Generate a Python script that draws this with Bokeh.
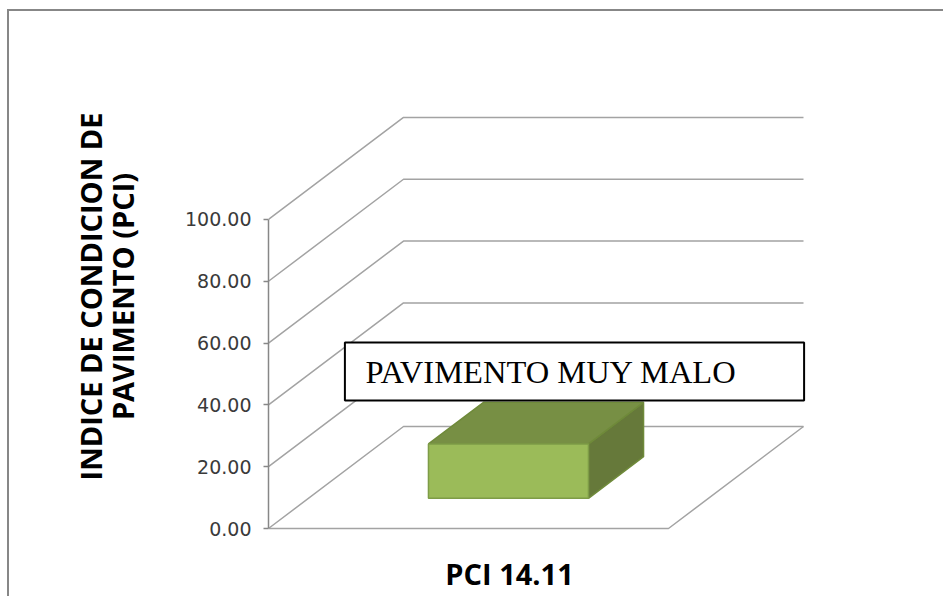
from bokeh.plotting import figure
from bokeh.models import FixedTicker, NumeralTickFormatter
from bokeh.core.properties import value
from bokeh.embed import file_html
from bokeh.resources import INLINE

# ---------------- data ----------------
categories = ["PCI  14.11"]
bar_values = [17.6]                 # bar height as drawn in the picture
y_ticks = [0, 20, 40, 60, 80, 100]
y_title_lines = ["INDICE DE CONDICION DE", "PAVIMENTO (PCI)"]
box_text = "PAVIMENTO MUY MALO"

# ---------------- 3D layout constants ----------------
DX = 0.3375      # depth shift in x (category units)
DY = 33.0        # depth shift in y (value units)
BAR_W = 0.4      # bar width (category units)
F0, F1 = 0.296, 0.704   # bar front / back depth fractions
LABEL_SHIFT = 0.112     # category label shift

p = figure(width=936, height=587, x_range=(0, 1.68), y_range=(-6.47, 156.6),
           output_backend="svg", toolbar_location=None,
           min_border_left=259, min_border_right=5, min_border_top=33,
           min_border_bottom=50)
p.styles = {"border-left": "2px solid #878787", "border-top": "2px solid #878787",
            "margin-left": "7px", "margin-top": "9px"}
p.outline_line_color = None
p.xgrid.visible = False
p.ygrid.visible = False
p.background_fill_color = "white"
p.border_fill_color = "white"

# ---------------- walls / gridlines ----------------
grid_xs, grid_ys = [], []
for t in y_ticks:
    grid_xs.append([0, DX, 1 + DX])
    grid_ys.append([t, t + DY, t + DY])
# floor front edge and right edge
grid_xs.append([0, 1, 1 + DX])
grid_ys.append([0, 0, DY])
p.multi_line(grid_xs, grid_ys, line_color="#a3a3a3", line_width=1.5)

# ---------------- 3D bars ----------------
front_xs, front_ys, top_xs, top_ys, side_xs, side_ys = [], [], [], [], [], []
for i, v in enumerate(bar_values):
    c = i + 0.5
    x0, x1 = c - BAR_W / 2, c + BAR_W / 2
    b0, b1 = F0 * DY, F1 * DY
    front_xs.append([x0 + F0 * DX, x1 + F0 * DX, x1 + F0 * DX, x0 + F0 * DX])
    front_ys.append([b0, b0, b0 + v, b0 + v])
    top_xs.append([x0 + F0 * DX, x1 + F0 * DX, x1 + F1 * DX, x0 + F1 * DX])
    top_ys.append([b0 + v, b0 + v, b1 + v, b1 + v])
    side_xs.append([x1 + F0 * DX, x1 + F1 * DX, x1 + F1 * DX, x1 + F0 * DX])
    side_ys.append([b0, b1, b1 + v, b0 + v])

p.patches(side_xs, side_ys, fill_color="#66793a", line_color="#6f8a3a", line_width=1.5)
p.patches(top_xs, top_ys, fill_color="#778f44", line_color="#6f8a3a", line_width=1.5)
p.patches(front_xs, front_ys, fill_color="#9bbb59", line_color="#7e9c47", line_width=1.5)

# ---------------- annotation box ----------------
p.quad(left=[0.191], right=[1.339], bottom=[41.4], top=[60.2],
       fill_color="white", line_color="black", line_width=2)
p.text(x=[0.2425], y=[50.5], text=[box_text],
       text_font=value("Liberation Serif"), text_font_size="32.5px",
       text_color="black", text_baseline="middle", text_align="left")

# ---------------- axes ----------------
yax = p.yaxis[0]
yax.ticker = FixedTicker(ticks=y_ticks)
yax.formatter = NumeralTickFormatter(format="0.00")
yax.bounds = (0, 100)
yax.axis_line_color = "#878787"
yax.axis_line_width = 1.5
yax.major_tick_line_color = "#878787"
yax.major_tick_line_width = 1.5
yax.major_tick_in = 0
yax.major_tick_out = 5
yax.minor_tick_line_color = None
yax.major_label_standoff = 12
yax.major_label_text_font = "DejaVu Sans"
yax.major_label_text_font_size = "19px"
yax.major_label_text_color = "#3a3a3a"
yax.axis_label = "\n".join(y_title_lines)
yax.axis_label_text_font = "Open Sans"
yax.axis_label_text_font_style = "bold"
yax.axis_label_text_font_size = "29px"
yax.axis_label_text_color = "black"
yax.axis_label_text_line_height = 0.81
yax.axis_label_standoff = 40
yax.axis_label_text_align = "center"

xax = p.xaxis[0]
tick_pos = [i + 0.5 + LABEL_SHIFT for i in range(len(categories))]
xax.ticker = FixedTicker(ticks=tick_pos)
xax.major_label_overrides = {t: c for t, c in zip(tick_pos, categories)}
xax.axis_line_color = None
xax.major_tick_line_color = None
xax.minor_tick_line_color = None
xax.major_tick_out = 0
xax.major_tick_in = 0
xax.major_label_standoff = 5
xax.major_label_text_font = "Open Sans"
xax.major_label_text_font_style = "bold"
xax.major_label_text_font_size = "29px"
xax.major_label_text_color = "black"

open("out.html", "w").write(file_html(p, INLINE))
